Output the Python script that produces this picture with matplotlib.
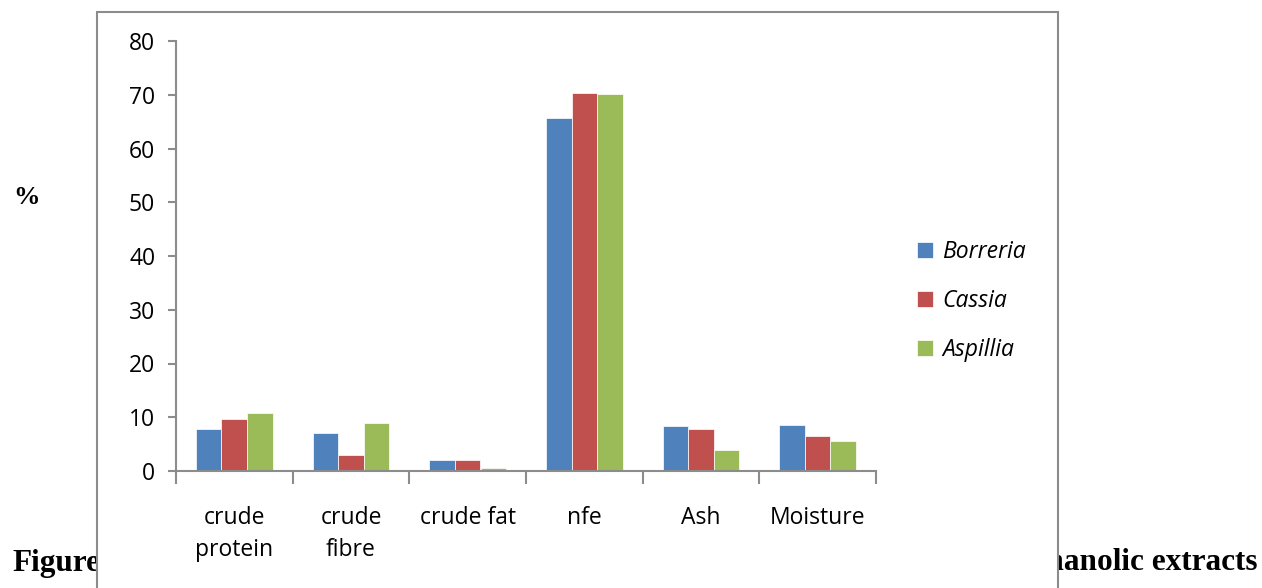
import numpy as np
import matplotlib.pyplot as plt
from matplotlib.patches import Rectangle

categories = ['crude\nprotein', 'crude\nfibre', 'crude fat', 'nfe', 'Ash', 'Moisture']
borreria = [7.9, 7.0, 2.0, 65.6, 8.4, 8.5]
cassia = [9.7, 3.0, 2.0, 70.4, 7.8, 6.5]
aspillia = [10.7, 8.9, 0.6, 70.1, 3.9, 5.5]
series_names = ['Borreria', 'Cassia', 'Aspillia']
colors = ['#4F81BD', '#C0504D', '#9BBB59']

plt.rcParams['font.family'] = ['Open Sans', 'DejaVu Sans']

fig = plt.figure(figsize=(12.62, 5.88), dpi=100)
W, H = 1262, 588

# caption, partly hidden behind the chart box
fig.text(12 / W, 1 - 563 / H, 'Figure',
         family='Liberation Serif', weight='bold', fontsize=22.5, va='center', ha='left', zorder=1)
fig.text(1258 / W, 1 - 563 / H, 'methanolic extracts',
         family='Liberation Serif', weight='bold', fontsize=22.5, va='center', ha='right', zorder=1)

# chart area box
box = Rectangle((97 / W, -0.1), (1058 - 97) / W, 1 - 12 / H + 0.1, transform=fig.transFigure,
                facecolor='white', edgecolor='#8c8c8c', linewidth=1.5, zorder=5)
fig.patches.append(box)

fig.text(27 / W, 1 - 197 / H, '%', family='Liberation Serif', weight='bold',
         fontsize=19, va='center', ha='center', zorder=6)

ax = fig.add_axes([176 / W, 1 - 471 / H, 700 / W, 430 / H])
ax.set_zorder(10)
ax.patch.set_alpha(0)

x = np.arange(len(categories))
w = 0.22
for i, (vals, name, c) in enumerate(zip([borreria, cassia, aspillia], series_names, colors)):
    ax.bar(x + (i - 1) * w, vals, width=w, color=c, label=name, edgecolor='white', linewidth=0.5)

ax.set_xlim(-0.5, len(categories) - 0.5)
ax.set_ylim(0, 80)
ax.set_yticks(range(0, 81, 10))

ax.set_xticks(np.arange(-0.5, len(categories), 1.0))
ax.set_xticklabels([])
ax.set_xticks(x, minor=True)
ax.set_xticklabels(categories, minor=True, linespacing=1.45)
ax.tick_params(axis='x', which='minor', length=0, pad=25, labelsize=16.5)
ax.tick_params(axis='x', which='major', length=9, direction='out', color='#8c8c8c', width=1.5)
ax.tick_params(axis='y', length=6, direction='out', color='#8c8c8c', width=1.5, labelsize=16.5, pad=9)

for s in ['top', 'right']:
    ax.spines[s].set_visible(False)
for s in ['left', 'bottom']:
    ax.spines[s].set_color('#8c8c8c')
    ax.spines[s].set_linewidth(1.5)

leg = ax.legend(loc='center left', bbox_to_anchor=(896 / W, 1 - 301 / H),
                bbox_transform=fig.transFigure, frameon=False,
                prop={'style': 'italic', 'size': 16.5},
                handlelength=0.7, handleheight=0.7, handletextpad=0.4, labelspacing=1.1)

fig.savefig('out.png', dpi=100)
